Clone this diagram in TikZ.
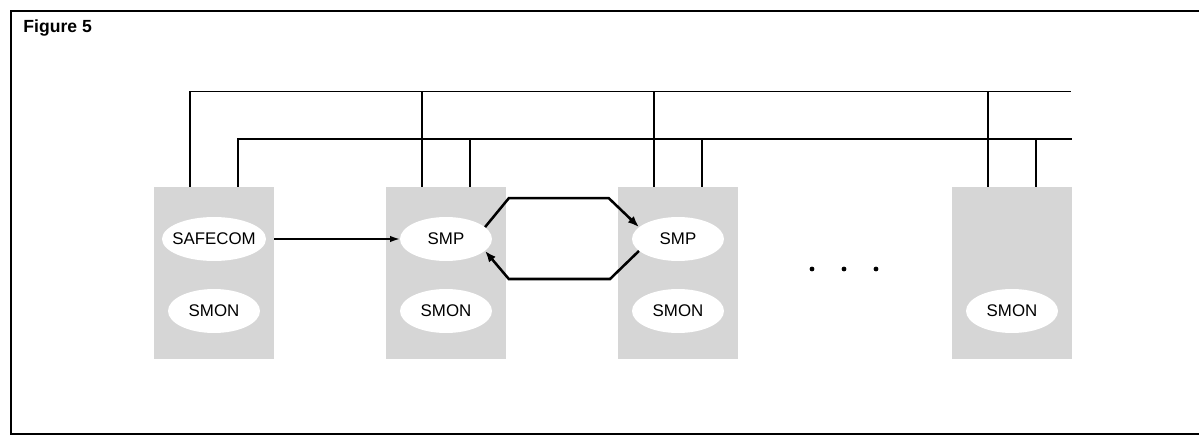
\documentclass[tikz,border=0pt]{standalone}
\usepackage{fontspec}
\setmainfont{Liberation Sans}
\usepackage{tikz}
\usetikzlibrary{arrows.meta,shapes.geometric}

\begin{document}
\begin{tikzpicture}[font=\fontsize{12}{14}\selectfont,
  cpu/.style={fill=gray!32, minimum width=3cm, minimum height=4.3cm, inner sep=0pt},
  proc/.style={ellipse, fill=white, minimum width=2.3cm, minimum height=1.1cm, inner sep=0pt},
  dot/.style={circle, fill=black, inner sep=0pt, minimum size=1.2mm},
  bus/.style={line width=0.9pt},
  msg/.style={line width=1pt, -{Latex[length=2.4mm, width=1.6mm]}},
  ring/.style={line width=1.8pt, line join=miter, -{Latex[length=2.8mm, width=2.2mm]}}]

\useasboundingbox (0,0) rectangle (29.975,11.025);

\draw[line width=1.1pt] (29.975,10.75) -- (0.275,10.75) -- (0.275,0.175) -- (29.975,0.175);
\node[font=\fontsize{12.5}{15}\selectfont\bfseries, anchor=base west, inner sep=0pt] (title) at (0.58,10.2) {Figure 5};

\node[cpu] (n1) at (5.35,4.2) {};
\node[cpu] (n2) at (11.15,4.2) {};
\node[cpu] (n3) at (16.95,4.2) {};
\node[cpu] (n4) at (25.3,4.2) {};

\node[proc, minimum width=2.6cm, inner xsep=-2mm] (safecom) at (5.35,5.05) {SAFECOM};
\node[proc] (smon1) at (5.35,3.25) {SMON};
\node[proc] (smp2) at (11.15,5.05) {SMP};
\node[proc] (smon2) at (11.15,3.25) {SMON};
\node[proc] (smp3) at (16.95,5.05) {SMP};
\node[proc] (smon3) at (16.95,3.25) {SMON};
\node[proc] (smon4) at (25.3,3.25) {SMON};

\node[dot] (dot1) at (20.3,4.3) {};
\node[dot] (dot2) at (21.1,4.3) {};
\node[dot] (dot3) at (21.9,4.3) {};

\coordinate (outerEnd) at (26.78,8.74);
\coordinate (innerEnd) at (26.8,7.55);
\foreach \n in {n1,n2,n3,n4} {
  \draw[bus] ([xshift=-0.6cm]\n.north) |- (outerEnd);
  \draw[bus] ([xshift=0.6cm]\n.north) |- (innerEnd);
}

\draw[msg] (n1.east |- safecom.east) -- (smp2.west);

\coordinate (up1) at (12.72,6.07);
\coordinate (up2) at (15.22,6.07);
\coordinate (lo2) at (15.25,4.05);
\coordinate (lo1) at (12.72,4.05);
\draw[ring] (smp2.17) -- (up1) -- (up2) -- (smp3.163);
\draw[ring] (smp3.197) -- (lo2) -- (lo1) -- (smp2.-17);

\end{tikzpicture}
\end{document}
